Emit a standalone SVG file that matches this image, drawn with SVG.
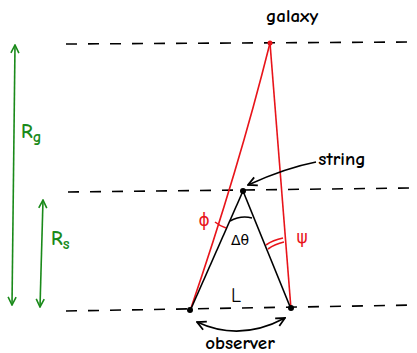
<svg xmlns="http://www.w3.org/2000/svg" width="417" height="353" viewBox="0 0 417 353">
<defs>
<marker id="vg" viewBox="0 0 10 10" refX="9" refY="5" markerWidth="10" markerHeight="10" markerUnits="userSpaceOnUse" orient="auto-start-reverse"><path d="M1,1 L9,5 L1,9" fill="none" stroke="#1a8a1a" stroke-width="1.6"/></marker>
<marker id="vk" viewBox="0 0 10 10" refX="9" refY="5" markerWidth="11" markerHeight="11" markerUnits="userSpaceOnUse" orient="auto-start-reverse"><path d="M1,1 L9,5 L1,9" fill="none" stroke="#000" stroke-width="1.6"/></marker>
</defs>
<style>
.dash{fill:none;stroke:#000;stroke-width:1.6;stroke-dasharray:11 11}
.red{fill:none;stroke:#e8141a;stroke-width:1.6}
.blk{fill:none;stroke:#000;stroke-width:1.6}
.grn{fill:none;stroke:#1a8a1a;stroke-width:1.6}
.t{font-family:"Comic Neue","DejaVu Sans",sans-serif;font-size:19px;font-weight:bold;fill:#000}
.tg{font-family:"Comic Neue","DejaVu Sans",sans-serif;font-size:20px;font-weight:bold;fill:#1a8a1a}
.tr{font-family:"DejaVu Sans",sans-serif;font-size:17px;fill:#e8141a}
</style>
<rect width="417" height="353" fill="#fff"/>
<g id="levels">
<path class="dash" d="M66,44 L410,42"/>
<path class="dash" d="M68,192 L413,188"/>
<path class="dash" d="M66,311 L415,305"/>
</g>
<g id="connectors">
<path class="red" d="M270,43 C252,115 228,200 190,311"/>
<path class="red" d="M270,43 L291,309"/>
<path class="blk" d="M243,191 L190,311"/>
<path class="blk" d="M243,191 L291,309"/>
<path class="red" d="M215,222 Q220,226 226,228"/>
<path class="red" d="M266,245 Q273,240 283,238"/>
<path class="red" d="M268,249 Q275,244 284,242"/>
<path class="blk" d="M230,221 Q241,215 252,218"/>
<path class="blk" d="M316,162 Q285,168 248,185" marker-end="url(#vk)"/>
<path class="blk" d="M197,322 Q240,342 285,318" marker-start="url(#vk)" marker-end="url(#vk)"/>
<path class="grn" d="M15,45 L12,305" marker-start="url(#vg)" marker-end="url(#vg)"/>
<path class="grn" d="M43,200 L40,307" marker-start="url(#vg)" marker-end="url(#vg)"/>
</g>
<g id="galaxy">
<circle cx="270" cy="43" r="2.5" fill="#e8141a"/>
<text class="t" x="292" y="22" text-anchor="middle">galaxy</text>
</g>
<g id="string">
<circle cx="243" cy="191" r="3" fill="#000"/>
<text class="t" x="342" y="165" text-anchor="middle">string</text>
</g>
<g id="observer">
<circle cx="190" cy="310" r="3" fill="#000"/>
<circle cx="291" cy="308" r="3" fill="#000"/>
<text class="t" x="240" y="349" text-anchor="middle">observer</text>
</g>
<g id="labels">
<text class="tg" x="21" y="138">R<tspan style="font-size:16px" dy="4">g</tspan></text>
<text class="tg" x="51" y="245">R<tspan style="font-size:16px" dy="4">s</tspan></text>
<text class="tr" x="204" y="226" text-anchor="middle">ϕ</text>
<text class="tr" x="302" y="243" text-anchor="middle">ψ</text>
<text class="t" x="240" y="245" text-anchor="middle" style="font-size:14px;font-weight:normal">Δθ</text>
<text class="t" x="236" y="302" text-anchor="middle" style="font-size:20px;font-weight:normal">L</text>
</g>
</svg>
